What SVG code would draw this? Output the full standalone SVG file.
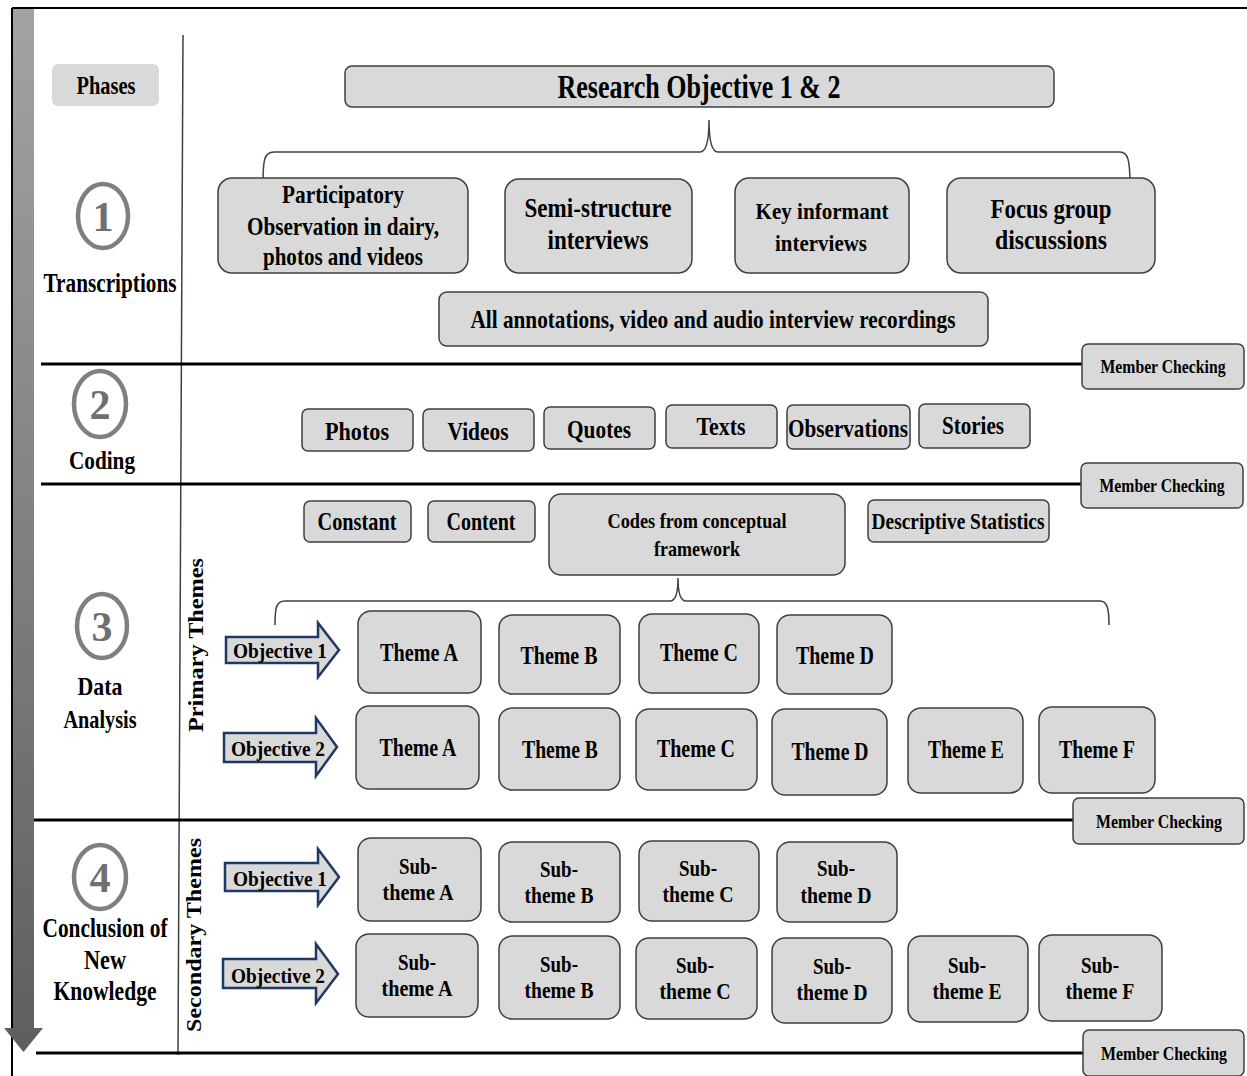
<svg xmlns="http://www.w3.org/2000/svg" width="1247" height="1076" viewBox="0 0 1247 1076" font-family="'Liberation Serif', 'DejaVu Serif', serif">
  <style>
    text { font-family: "Liberation Serif", "DejaVu Serif", serif; font-weight: bold; fill: #000; text-anchor: middle; }
    .box { fill: #d9d9d9; stroke: #3f3f3f; stroke-width: 1.5; }
    .sep { stroke: #000; stroke-width: 3; fill: none; }
    .frame { stroke: #000; stroke-width: 2; fill: none; }
    .thin { stroke: #404040; stroke-width: 1.5; fill: none; }
    .ring { fill: #fff; stroke: #7f7f7f; stroke-width: 4.5; }
    .num { font-weight: bold; fill: #6f6f6f; font-size: 42px; }
    .obj { fill: #d9d9d9; stroke: #1f3864; stroke-width: 2.5; stroke-linejoin: miter; }
    .mc { font-size: 18px; }
    .t26 { font-size: 27px; }
    .t24 { font-size: 25px; }
    .t22 { font-size: 23px; }
    .t20 { font-size: 21px; }
  </style>
  <defs>
    <linearGradient id="barShade" x1="0" y1="0" x2="0" y2="1">
      <stop offset="0" stop-color="#a3a3a3"/>
      <stop offset="1" stop-color="#5e5e5e"/>
    </linearGradient>
  </defs>

  <rect width="1247" height="1076" fill="#fff"/>

  <!-- frame and phase timeline arrow -->
  <g id="frame">
    <line class="frame" x1="12" y1="8" x2="1247" y2="8"/>
    <line class="frame" x1="12" y1="8" x2="12" y2="1076"/>
    <path d="M13,9 H34 V1028 H43 L23.5,1052 L4,1028 H13 Z" fill="url(#barShade)"/>
    <line class="thin" x1="183" y1="35" x2="178" y2="1055"/>
  </g>

  <!-- connectors: section separators and brackets -->
  <g id="connectors">
    <line class="sep" x1="41" y1="364" x2="1082" y2="364"/>
    <line class="sep" x1="41" y1="484" x2="1081" y2="484"/>
    <line class="sep" x1="34" y1="820" x2="1073" y2="820"/>
    <line class="sep" x1="36" y1="1053" x2="1083" y2="1053"/>
    <path class="thin" d="M263,185 C263,160 264,152 274,152 L700,152 C706,152 709,142 709,120 C709,142 712,152 718,152 L1120,152 C1128,152 1130,160 1130,185"/>
    <path class="thin" d="M275,625 C275,608 276,601 285,601 L670,601 C676,601 678,592 678,578 C678,592 680,601 686,601 L1100,601 C1107,601 1109,608 1109,625"/>
  </g>

  <!-- phase column -->
  <g id="phases">
    <rect x="52" y="64" width="107" height="42" rx="6" fill="#d9d9d9"/>
    <text x="106" y="94" class="t24" textLength="59" lengthAdjust="spacingAndGlyphs">Phases</text>
  </g>
  <g id="phase-1">
    <ellipse class="ring" cx="103" cy="216" rx="25" ry="32"/>
    <text x="103" y="231" class="num">1</text>
    <text x="110" y="292" class="t26" textLength="133" lengthAdjust="spacingAndGlyphs">Transcriptions</text>
  </g>
  <g id="phase-2">
    <ellipse class="ring" cx="100" cy="404" rx="26" ry="33"/>
    <text x="100" y="419" class="num">2</text>
    <text x="102" y="469" class="t24" textLength="66" lengthAdjust="spacingAndGlyphs">Coding</text>
  </g>
  <g id="phase-3">
    <ellipse class="ring" cx="102" cy="626" rx="25" ry="32"/>
    <text x="102" y="641" class="num">3</text>
    <text x="100" y="695" class="t24" textLength="45" lengthAdjust="spacingAndGlyphs">Data</text>
    <text x="100" y="728" class="t24" textLength="73" lengthAdjust="spacingAndGlyphs">Analysis</text>
  </g>
  <g id="phase-4">
    <ellipse class="ring" cx="100" cy="877" rx="26" ry="32"/>
    <text x="100" y="892" class="num">4</text>
    <text x="105" y="937" class="t26" textLength="125" lengthAdjust="spacingAndGlyphs">Conclusion of</text>
    <text x="105" y="969" class="t26" textLength="42" lengthAdjust="spacingAndGlyphs">New</text>
    <text x="105" y="1000" class="t26" textLength="103" lengthAdjust="spacingAndGlyphs">Knowledge</text>
  </g>
  <g id="primary-label">
    <text transform="translate(203,645) rotate(-90)" class="t20" textLength="174" lengthAdjust="spacingAndGlyphs">Primary  Themes</text>
  </g>
  <g id="secondary-label">
    <text transform="translate(201,935) rotate(-90)" class="t20" textLength="194" lengthAdjust="spacingAndGlyphs">Secondary Themes</text>
  </g>

  <!-- phase 1: transcriptions -->
  <g id="research-objective">
    <rect class="box" x="345" y="66" width="709" height="41" rx="7"/>
    <text x="699" y="98" style="font-size:33px" textLength="283" lengthAdjust="spacingAndGlyphs">Research Objective 1 &amp; 2</text>
  </g>
  <g id="participatory">
    <rect class="box" x="218" y="178" width="250" height="95" rx="14"/>
    <text x="343" y="203" class="t24" textLength="122" lengthAdjust="spacingAndGlyphs">Participatory</text>
    <text x="343" y="235" class="t24" textLength="192" lengthAdjust="spacingAndGlyphs">Observation in dairy,</text>
    <text x="343" y="265" class="t24" textLength="160" lengthAdjust="spacingAndGlyphs">photos and videos</text>
  </g>
  <g id="semi-structure">
    <rect class="box" x="505" y="179" width="187" height="94" rx="14"/>
    <text x="598" y="217" class="t26" textLength="147" lengthAdjust="spacingAndGlyphs">Semi-structure</text>
    <text x="598" y="249" class="t26" textLength="101" lengthAdjust="spacingAndGlyphs">interviews</text>
  </g>
  <g id="key-informant">
    <rect class="box" x="735" y="178" width="174" height="95" rx="14"/>
    <text x="822" y="219" class="t22" textLength="133" lengthAdjust="spacingAndGlyphs">Key informant</text>
    <text x="821" y="251" class="t22" textLength="92" lengthAdjust="spacingAndGlyphs">interviews</text>
  </g>
  <g id="focus-group">
    <rect class="box" x="947" y="178" width="208" height="95" rx="14"/>
    <text x="1051" y="218" class="t26" textLength="121" lengthAdjust="spacingAndGlyphs">Focus group</text>
    <text x="1051" y="249" class="t26" textLength="112" lengthAdjust="spacingAndGlyphs">discussions</text>
  </g>
  <g id="recordings">
    <rect class="box" x="439" y="292" width="549" height="54" rx="8"/>
    <text x="713" y="328" class="t24" textLength="485" lengthAdjust="spacingAndGlyphs">All  annotations, video and audio interview recordings</text>
  </g>
  <g id="member-checking-1">
    <rect class="box" x="1082" y="344" width="162" height="45" rx="6"/>
    <text x="1163" y="373" class="mc" textLength="125" lengthAdjust="spacingAndGlyphs">Member Checking</text>
  </g>

  <!-- phase 2: coding -->
  <g id="photos">
    <rect class="box" x="302" y="409" width="111" height="42" rx="6"/>
    <text x="357" y="440" class="t24" textLength="64" lengthAdjust="spacingAndGlyphs">Photos</text>
  </g>
  <g id="videos">
    <rect class="box" x="423" y="409" width="111" height="42" rx="6"/>
    <text x="478" y="440" class="t24" textLength="61" lengthAdjust="spacingAndGlyphs">Videos</text>
  </g>
  <g id="quotes">
    <rect class="box" x="544" y="407" width="111" height="42" rx="6"/>
    <text x="599" y="438" class="t24" textLength="64" lengthAdjust="spacingAndGlyphs">Quotes</text>
  </g>
  <g id="texts">
    <rect class="box" x="666" y="405" width="111" height="43" rx="6"/>
    <text x="721" y="435" class="t24" textLength="49" lengthAdjust="spacingAndGlyphs">Texts</text>
  </g>
  <g id="observations">
    <rect class="box" x="787" y="405" width="123" height="44" rx="6"/>
    <text x="848" y="437" class="t24" textLength="120" lengthAdjust="spacingAndGlyphs">Observations</text>
  </g>
  <g id="stories">
    <rect class="box" x="919" y="404" width="111" height="44" rx="6"/>
    <text x="973" y="434" class="t24" textLength="62" lengthAdjust="spacingAndGlyphs">Stories</text>
  </g>
  <g id="member-checking-2">
    <rect class="box" x="1081" y="463" width="162" height="45" rx="6"/>
    <text x="1162" y="492" class="mc" textLength="125" lengthAdjust="spacingAndGlyphs">Member Checking</text>
  </g>

  <!-- phase 3: data analysis -->
  <g id="constant">
    <rect class="box" x="304" y="501" width="107" height="41" rx="6"/>
    <text x="357" y="530" class="t24" textLength="79" lengthAdjust="spacingAndGlyphs">Constant</text>
  </g>
  <g id="content">
    <rect class="box" x="428" y="501" width="107" height="41" rx="6"/>
    <text x="481" y="530" class="t24" textLength="69" lengthAdjust="spacingAndGlyphs">Content</text>
  </g>
  <g id="codes-framework">
    <rect class="box" x="549" y="494" width="296" height="81" rx="12"/>
    <text x="697" y="528" class="t20" textLength="179" lengthAdjust="spacingAndGlyphs">Codes from conceptual</text>
    <text x="697" y="556" class="t20" textLength="86" lengthAdjust="spacingAndGlyphs">framework</text>
  </g>
  <g id="descriptive-statistics">
    <rect class="box" x="868" y="500" width="181" height="42" rx="6"/>
    <text x="958" y="529" class="t22" textLength="173" lengthAdjust="spacingAndGlyphs">Descriptive Statistics</text>
  </g>

  <g id="primary-objective-1">
    <path class="obj" d="M226,637 H318 V623 L339,650 L318,677 V663 H226 Z"/>
    <text x="280" y="658" class="t20" textLength="94" lengthAdjust="spacingAndGlyphs">Objective 1</text>
  </g>
  <g id="primary-objective-2">
    <path class="obj" d="M224,733 H316 V718 L337,747 L316,776 V762 H224 Z"/>
    <text x="278" y="756" class="t20" textLength="94" lengthAdjust="spacingAndGlyphs">Objective 2</text>
  </g>

  <g id="p1-theme-a"><rect class="box" x="358" y="611" width="123" height="82" rx="13"/><text x="419" y="661" class="t24" textLength="78" lengthAdjust="spacingAndGlyphs">Theme A</text></g>
  <g id="p1-theme-b"><rect class="box" x="499" y="615" width="121" height="79" rx="13"/><text x="559" y="664" class="t24" textLength="77" lengthAdjust="spacingAndGlyphs">Theme B</text></g>
  <g id="p1-theme-c"><rect class="box" x="639" y="614" width="120" height="79" rx="13"/><text x="699" y="661" class="t24" textLength="78" lengthAdjust="spacingAndGlyphs">Theme C</text></g>
  <g id="p1-theme-d"><rect class="box" x="777" y="615" width="115" height="79" rx="13"/><text x="835" y="664" class="t24" textLength="78" lengthAdjust="spacingAndGlyphs">Theme D</text></g>

  <g id="p2-theme-a"><rect class="box" x="356" y="706" width="123" height="83" rx="13"/><text x="418" y="756" class="t24" textLength="77" lengthAdjust="spacingAndGlyphs">Theme A</text></g>
  <g id="p2-theme-b"><rect class="box" x="499" y="708" width="121" height="82" rx="13"/><text x="560" y="758" class="t24" textLength="76" lengthAdjust="spacingAndGlyphs">Theme B</text></g>
  <g id="p2-theme-c"><rect class="box" x="636" y="709" width="121" height="81" rx="13"/><text x="696" y="757" class="t24" textLength="78" lengthAdjust="spacingAndGlyphs">Theme C</text></g>
  <g id="p2-theme-d"><rect class="box" x="772" y="709" width="115" height="86" rx="13"/><text x="830" y="760" class="t24" textLength="77" lengthAdjust="spacingAndGlyphs">Theme D</text></g>
  <g id="p2-theme-e"><rect class="box" x="908" y="708" width="115" height="85" rx="13"/><text x="966" y="758" class="t24" textLength="76" lengthAdjust="spacingAndGlyphs">Theme E</text></g>
  <g id="p2-theme-f"><rect class="box" x="1039" y="707" width="116" height="86" rx="13"/><text x="1097" y="758" class="t24" textLength="76" lengthAdjust="spacingAndGlyphs">Theme F</text></g>

  <g id="member-checking-3">
    <rect class="box" x="1073" y="798" width="171" height="46" rx="6"/>
    <text x="1159" y="828" class="mc" textLength="126" lengthAdjust="spacingAndGlyphs">Member Checking</text>
  </g>

  <!-- phase 4: conclusion of new knowledge -->
  <g id="secondary-objective-1">
    <path class="obj" d="M225,863 H318 V849 L339,877 L318,905 V891 H225 Z"/>
    <text x="280" y="886" class="t20" textLength="94" lengthAdjust="spacingAndGlyphs">Objective 1</text>
  </g>
  <g id="secondary-objective-2">
    <path class="obj" d="M223,959 H316 V944 L338,974 L316,1003 V988 H223 Z"/>
    <text x="278" y="983" class="t20" textLength="94" lengthAdjust="spacingAndGlyphs">Objective 2</text>
  </g>

  <g id="s1-sub-a"><rect class="box" x="358" y="838" width="123" height="83" rx="13"/><text x="418" y="874" class="t22" textLength="38" lengthAdjust="spacingAndGlyphs">Sub-</text><text x="418" y="900" class="t22" textLength="71" lengthAdjust="spacingAndGlyphs">theme A</text></g>
  <g id="s1-sub-b"><rect class="box" x="499" y="842" width="121" height="80" rx="13"/><text x="559" y="877" class="t22" textLength="38" lengthAdjust="spacingAndGlyphs">Sub-</text><text x="559" y="903" class="t22" textLength="69" lengthAdjust="spacingAndGlyphs">theme B</text></g>
  <g id="s1-sub-c"><rect class="box" x="639" y="841" width="120" height="80" rx="13"/><text x="698" y="876" class="t22" textLength="38" lengthAdjust="spacingAndGlyphs">Sub-</text><text x="698" y="902" class="t22" textLength="71" lengthAdjust="spacingAndGlyphs">theme C</text></g>
  <g id="s1-sub-d"><rect class="box" x="777" y="842" width="120" height="80" rx="13"/><text x="836" y="876" class="t22" textLength="38" lengthAdjust="spacingAndGlyphs">Sub-</text><text x="836" y="903" class="t22" textLength="71" lengthAdjust="spacingAndGlyphs">theme D</text></g>

  <g id="s2-sub-a"><rect class="box" x="356" y="934" width="122" height="83" rx="13"/><text x="417" y="970" class="t22" textLength="38" lengthAdjust="spacingAndGlyphs">Sub-</text><text x="417" y="996" class="t22" textLength="71" lengthAdjust="spacingAndGlyphs">theme A</text></g>
  <g id="s2-sub-b"><rect class="box" x="499" y="936" width="121" height="83" rx="13"/><text x="559" y="972" class="t22" textLength="38" lengthAdjust="spacingAndGlyphs">Sub-</text><text x="559" y="998" class="t22" textLength="69" lengthAdjust="spacingAndGlyphs">theme B</text></g>
  <g id="s2-sub-c"><rect class="box" x="636" y="938" width="121" height="81" rx="13"/><text x="695" y="973" class="t22" textLength="38" lengthAdjust="spacingAndGlyphs">Sub-</text><text x="695" y="999" class="t22" textLength="71" lengthAdjust="spacingAndGlyphs">theme C</text></g>
  <g id="s2-sub-d"><rect class="box" x="772" y="938" width="120" height="85" rx="13"/><text x="832" y="974" class="t22" textLength="38" lengthAdjust="spacingAndGlyphs">Sub-</text><text x="832" y="1000" class="t22" textLength="71" lengthAdjust="spacingAndGlyphs">theme D</text></g>
  <g id="s2-sub-e"><rect class="box" x="908" y="936" width="120" height="86" rx="13"/><text x="967" y="973" class="t22" textLength="38" lengthAdjust="spacingAndGlyphs">Sub-</text><text x="967" y="999" class="t22" textLength="69" lengthAdjust="spacingAndGlyphs">theme E</text></g>
  <g id="s2-sub-f"><rect class="box" x="1039" y="935" width="123" height="86" rx="13"/><text x="1100" y="973" class="t22" textLength="38" lengthAdjust="spacingAndGlyphs">Sub-</text><text x="1100" y="999" class="t22" textLength="69" lengthAdjust="spacingAndGlyphs">theme F</text></g>

  <g id="member-checking-4">
    <rect class="box" x="1083" y="1030" width="161" height="46" rx="6"/>
    <text x="1164" y="1060" class="mc" textLength="126" lengthAdjust="spacingAndGlyphs">Member Checking</text>
  </g>
</svg>
